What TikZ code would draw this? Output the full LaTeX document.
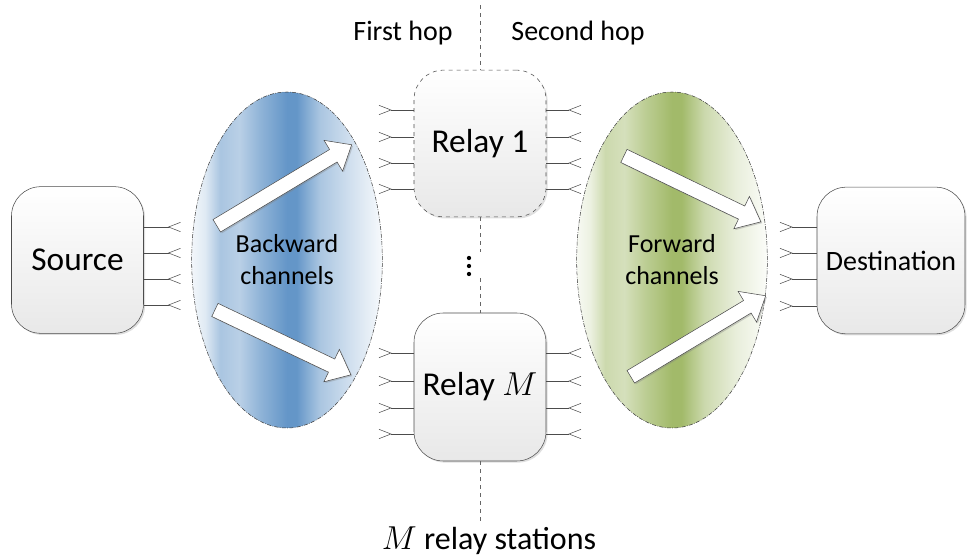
\documentclass[tikz,border=0pt]{standalone}
\usepackage{fontspec}
\setmainfont{Carlito}
\usetikzlibrary{arrows.meta,shapes.arrows,shapes.geometric,shadows}
\definecolor{bwdblue}{RGB}{100,150,200}
\definecolor{fwdgreen}{RGB}{162,186,106}
\pgfdeclarehorizontalshading{bwdshade}{100bp}{color(0bp)=(bwdblue!8); color(25bp)=(bwdblue!8); color(28.5bp)=(bwdblue!20); color(32.5bp)=(bwdblue!55); color(37.5bp)=(bwdblue!45); color(43bp)=(bwdblue!72); color(50bp)=(bwdblue); color(52.5bp)=(bwdblue); color(58.5bp)=(bwdblue!55); color(66.5bp)=(bwdblue!30); color(75bp)=(bwdblue!5); color(100bp)=(bwdblue!5)}
\pgfdeclarehorizontalshading{fwdshade}{100bp}{color(0bp)=(fwdgreen!8); color(25bp)=(fwdgreen!8); color(28.5bp)=(fwdgreen!20); color(32.5bp)=(fwdgreen!55); color(37.5bp)=(fwdgreen!45); color(43bp)=(fwdgreen!72); color(50bp)=(fwdgreen); color(52.5bp)=(fwdgreen); color(58.5bp)=(fwdgreen!55); color(66.5bp)=(fwdgreen!25); color(75bp)=(fwdgreen!4); color(100bp)=(fwdgreen!4)}
\begin{document}
\begin{tikzpicture}[x=0.75pt,y=-0.75pt,
		box/.style={draw=black!70,rounded corners=22pt,top color=white,bottom color=black!9,minimum width=99pt,minimum height=110pt,font=\fontsize{25}{29}\selectfont,drop shadow={opacity=0.25,shadow xshift=1.2pt,shadow yshift=-1.2pt}},
		chan/.style={ellipse,draw=black!75,dash pattern=on 3pt off 1pt on 0.6pt off 1pt,shade,minimum width=143pt,minimum height=252pt,align=center,font=\fontsize{19.5}{24}\selectfont},
		bigarrow/.style={single arrow,draw=black!70,fill=white,inner xsep=0pt,inner ysep=5.25pt,single arrow head extend=8pt,single arrow tip angle=80,drop shadow={opacity=0.35,shadow xshift=1pt,shadow yshift=-1pt}},
		antenna/.style={draw=black!70,-{Straight Barb[reversed,length=9pt,width=7pt]}},
		hop/.style={draw=black!60,dashed},
		hoplabel/.style={font=\fontsize{21}{25}\selectfont}]
	\useasboundingbox (0,0) rectangle (967,559);
	\node[chan,shading=bwdshade] (bwd) at (287,260) {Backward\\channels};
	\node[chan,shading=fwdshade] (fwd) at (672,260) {Forward\\channels};
	\node[bigarrow,rotate=31,minimum height=118pt] (bwdup) at (280.5,187.5) {};
	\node[bigarrow,rotate=-25.5,minimum height=113pt] (bwddown) at (279,340.5) {};
	\node[bigarrow,rotate=-25.7,minimum height=114pt] (fwdup) at (688.5,187) {};
	\node[bigarrow,rotate=31,minimum height=118pt] (fwddown) at (694.5,338.5) {};
	\node[box] (src) at (77.5,260) {Source};
	\node[box,dashed] (relayA) at (480,143.5) {Relay 1};
	\node[box,minimum height=111pt] (relayM) at (480,387) {Relay $M$};
	\node[box,minimum width=111pt,font=\fontsize{21}{25}\selectfont] (dst) at (891,260.5) {Destination};
	\foreach \y in {227,253,279,305}
		\draw[antenna] (src.east |- 0,\y) -- ++(37,0);
	\foreach \y in {110,137,163,189} {
		\draw[antenna] (relayA.west |- 0,\y) -- ++(-35,0);
		\draw[antenna] (relayA.east |- 0,\y) -- ++(35,0);
	}
	\foreach \y in {353,381,408,434} {
		\draw[antenna] (relayM.west |- 0,\y) -- ++(-35,0);
		\draw[antenna] (relayM.east |- 0,\y) -- ++(35,0);
	}
	\foreach \y in {227,253,279,306}
		\draw[antenna] (dst.west |- 0,\y) -- ++(-37,0);
	\coordinate (hoptop) at (480,5);
	\coordinate (hopgapA) at (480,252);
	\coordinate (hopgapB) at (480,278);
	\coordinate (hopbot) at (480,523);
	\draw[hop] (hoptop) -- (relayA.north);
	\draw[hop] (relayA.south) -- (hopgapA);
	\draw[hop] (hopgapB) -- (relayM.north);
	\draw[hop] (relayM.south) -- (hopbot);
	\foreach \y in {258,266,274}
		\fill[color=black] (469,\y) circle[radius=1.6pt];
	\node[hoplabel] (firsthop) at (403,33) {First hop};
	\node[hoplabel] (secondhop) at (578,33) {Second hop};
	\node[font=\fontsize{24}{28}\selectfont,inner sep=1pt] (stations) at (489,541) {$M$ relay stations};
\end{tikzpicture}
\end{document}
